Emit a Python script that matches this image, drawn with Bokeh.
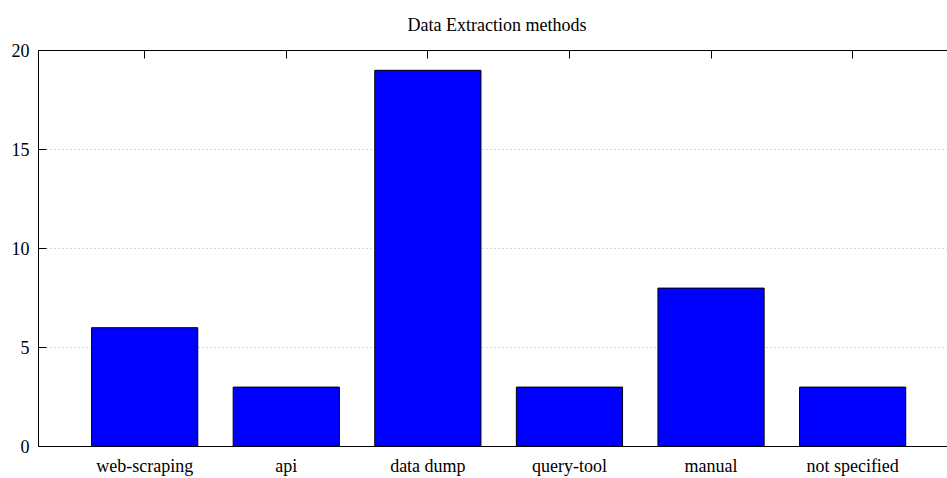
from bokeh.plotting import figure
from bokeh.models import Range1d, FixedTicker, LinearAxis, Title
from bokeh.embed import file_html
from bokeh.resources import INLINE

title_text = "Data Extraction methods"
categories = ["web-scraping", "api", "data dump", "query-tool", "manual", "not specified"]
counts = [6, 3, 19, 3, 8, 3]
y_ticks = [0, 5, 10, 15, 20]

xs = list(range(len(categories)))
FONT = "Liberation Serif"

p = figure(width=947, height=478, output_backend="svg", toolbar_location=None,
           x_range=Range1d(-0.75, 5.67), y_range=Range1d(0, 20),
           min_border_left=38, min_border_right=0, min_border_top=50, min_border_bottom=32)
p.title = Title(text=title_text, align="left", offset=369, vertical_align="top",
                text_font=FONT, text_font_size="18px", text_font_style="normal",
                text_color="black", standoff=28)
p.outline_line_color = None

p.vbar(x=xs, top=counts, width=0.75, bottom=0,
       fill_color="#0000ff", line_color="black", line_width=1)

# bottom axis
xa = p.xaxis[0]
xa.ticker = FixedTicker(ticks=xs)
xa.major_label_overrides = {i: c for i, c in enumerate(categories)}
xa.major_tick_line_color = None
xa.minor_tick_line_color = None
xa.major_label_standoff = 3
xa.major_label_text_font = FONT
xa.major_label_text_font_size = "18px"
xa.major_label_text_color = "black"
xa.axis_line_color = "black"

# left axis
ya = p.yaxis[0]
ya.ticker = FixedTicker(ticks=y_ticks)
ya.major_tick_in = 8
ya.major_tick_out = 0
ya.minor_tick_line_color = None
ya.major_label_standoff = 9
ya.major_label_text_font = FONT
ya.major_label_text_font_size = "18px"
ya.major_label_text_color = "black"
ya.axis_line_color = "black"

# top border with inward ticks
top = LinearAxis(ticker=FixedTicker(ticks=xs), major_tick_in=8, major_tick_out=0,
                 minor_tick_line_color=None, major_label_text_font_size="0px",
                 major_label_standoff=0, axis_line_color="black")
top.major_label_overrides = {i: "" for i in xs}
p.add_layout(top, "above")

p.xgrid.grid_line_color = None
p.ygrid.ticker = FixedTicker(ticks=[5, 10, 15])
p.ygrid.grid_line_color = "#b0b0b0"
p.ygrid.grid_line_dash = "1 3"
p.ygrid.grid_line_width = 1

open("out.html", "w").write(file_html(p, INLINE))
